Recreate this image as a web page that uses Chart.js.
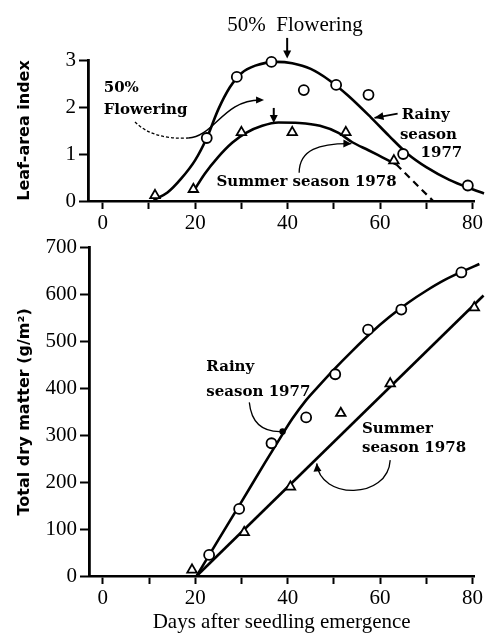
<!DOCTYPE html>
<html>
<head>
<meta charset="utf-8">
<script src="https://cdn.jsdelivr.net/npm/chart.js@4.4.1/dist/chart.umd.min.js"></script>
<style>
  html, body { margin: 0; padding: 0; background: #fff; }
  body { width: 485px; height: 635px; position: relative; overflow: hidden; }
  .box { position: absolute; left: 0; width: 485px; }
  #top { top: 0; height: 232px; }
  #bottom { top: 232px; height: 403px; }
</style>
</head>
<body>
<div class="box" id="top"><canvas id="laiChart"></canvas></div>
<div class="box" id="bottom"><canvas id="dmChart"></canvas></div>
<script>
// leaf-area index, observed points
const rainyLaiDays = [22.5, 29, 36.5, 43.5, 50.5, 57.5, 65, 79];
const rainyLai = [1.34, 2.64, 2.96, 2.36, 2.47, 2.26, 1.0, 0.33];
const summerLaiDays = [11.3, 19.6, 30, 41, 52.6, 63];
const summerLai = [0.12, 0.25, 1.46, 1.46, 1.46, 0.86];

// leaf-area index, fitted curves
const rainyLaiFitDays = [11, 14, 17, 20, 22.5, 25, 27.5, 30, 33, 37.5, 41, 45, 49, 53, 58, 62, 66, 70, 75, 80, 82.5];
const rainyLaiFit = [0.02, 0.18, 0.48, 0.87, 1.34, 1.95, 2.42, 2.72, 2.88, 2.96, 2.93, 2.81, 2.57, 2.25, 1.78, 1.38, 1.0, 0.72, 0.45, 0.25, 0.16];
const summerLaiFitDays = [19.6, 22, 25, 28, 31, 34.5, 38, 42.5, 47, 51, 54, 57.5, 60.5, 63.5];
const summerLaiFit = [0.2, 0.57, 0.94, 1.24, 1.45, 1.6, 1.67, 1.66, 1.6, 1.45, 1.25, 1.08, 0.93, 0.78];
const summerLaiTailDays = [63.5, 71.5];
const summerLaiTail = [0.78, 0];

// total dry matter, observed points
const rainyDmDays = [23, 29.5, 36.5, 44, 50.3, 57.4, 64.6, 77.6];
const rainyDm = [45, 143, 283, 338, 430, 525, 568, 647];
const summerDmDays = [19.3, 30.6, 40.6, 51.5, 62.2, 80.4];
const summerDm = [13, 93, 190, 347, 410, 572];

// total dry matter, fitted curves
const rainyDmFitDays = [20.3, 25, 30, 35, 38, 41, 44, 47, 50, 54, 58, 62, 66, 70, 74, 78, 81.5];
const rainyDmFit = [0, 77, 158, 240, 288, 335, 375, 408, 440, 480, 518, 552, 582, 608, 631, 650, 665];
const summerDmFitDays = [20.3, 82.4];
const summerDmFit = [0, 598];

const laiTicks = [0, 1, 2, 3];
const dmTicks = [0, 100, 200, 300, 400, 500, 600, 700];
const dayLabels = [0, 20, 40, 60, 80];

const TICK_FONT = { family: 'Liberation Serif', size: 21 };
const NOTE_FONT = 'bold 15px "DejaVu Serif"';

function pts(xs, ys) {
    return xs.map((x, i) => ({ x: x, y: ys[i] }));
}

function px(chart, x, y) {
    return [chart.scales.x.getPixelForValue(x), chart.scales.y.getPixelForValue(y)];
}

function arrowHead(ctx, from, to, len, half) {
    const a = Math.atan2(to[1] - from[1], to[0] - from[0]);
    const c = Math.cos(a), s = Math.sin(a);
    ctx.beginPath();
    ctx.moveTo(to[0], to[1]);
    ctx.lineTo(to[0] - len * c + half * s, to[1] - len * s - half * c);
    ctx.lineTo(to[0] - len * c - half * s, to[1] - len * s + half * c);
    ctx.closePath();
    ctx.fill();
}

function fitLine(xs, ys) {
    return {
        data: pts(xs, ys), borderColor: '#000', borderWidth: 2.6, pointRadius: 0,
        cubicInterpolationMode: 'monotone', fill: false, clip: false, order: 2
    };
}

function marks(xs, ys, style) {
    return {
        data: pts(xs, ys), showLine: false, pointStyle: style,
        pointRadius: style === 'triangle' ? 5.5 : 5, pointBorderWidth: 1.8,
        pointBackgroundColor: '#fff', pointBorderColor: '#000', clip: false, order: 0
    };
}

function dayAxis(min, max, height) {
    return {
        type: 'linear', min: min, max: max,
        ticks: {
            stepSize: 10, includeBounds: false, autoSkip: false, maxRotation: 0,
            color: '#000', font: TICK_FONT, padding: 2,
            callback: v => dayLabels.includes(v) ? String(v) : ''
        },
        grid: { display: true, drawOnChartArea: false, tickLength: 8, tickWidth: 2, tickColor: '#000' },
        border: { display: true, color: '#000', width: 2.6 },
        afterFit: s => { s.height = height; }
    };
}

function valueAxis(min, max, step, width, title, list) {
    return {
        type: 'linear', min: min, max: max,
        afterBuildTicks: s => { s.ticks = list.map(v => ({ value: v })); },
        ticks: { stepSize: step, color: '#000', font: TICK_FONT, padding: 3 },
        grid: { display: true, drawOnChartArea: false, tickLength: 9, tickWidth: 2, tickColor: '#000' },
        border: { display: true, color: '#000', width: 2.8 },
        title: {
            display: true, text: title, color: '#000',
            font: { family: 'DejaVu Sans', size: 16, weight: 'bold' },
            padding: { top: 15, bottom: 0 }
        },
        afterFit: s => { s.width = width; }
    };
}

const laiNotes = {
    id: 'laiNotes',
    afterDatasetsDraw(chart) {
        const ctx = chart.ctx;
        const p = (x, y) => px(chart, x, y);
        ctx.save();
        ctx.fillStyle = '#000';
        ctx.strokeStyle = '#000';

        ctx.font = '21px "Liberation Serif"';
        ctx.textAlign = 'center';
        ctx.textBaseline = 'middle';
        let t = p(41.6, 3.74);
        ctx.fillText('50%  Flowering', t[0], t[1]);

        // arrow down to the rainy peak
        ctx.lineWidth = 2;
        let a = p(39.9, 3.47), b = p(39.9, 3.03);
        ctx.beginPath(); ctx.moveTo(a[0], a[1]); ctx.lineTo(b[0], b[1] - 6); ctx.stroke();
        arrowHead(ctx, a, b, 8, 4);

        ctx.font = NOTE_FONT;
        ctx.textAlign = 'left';
        t = p(0.2, 2.4); ctx.fillText('50%', t[0], t[1]);
        t = p(0.2, 1.94); ctx.fillText('Flowering', t[0], t[1]);

        // curved pointer from "Flowering" to the summer arrow
        ctx.lineWidth = 1.3;
        ctx.setLineDash([3, 2]);
        let s0 = p(6.97, 1.68), q = p(10.9, 1.3), m = p(18.5, 1.34);
        ctx.beginPath(); ctx.moveTo(s0[0], s0[1]); ctx.quadraticCurveTo(q[0], q[1], m[0], m[1]); ctx.stroke();
        ctx.setLineDash([]);
        ctx.lineWidth = 1.5;
        let c1 = p(24.0, 1.36), c2 = p(26.1, 2.15), e = p(34.9, 2.15);
        ctx.beginPath(); ctx.moveTo(m[0], m[1]); ctx.bezierCurveTo(c1[0], c1[1], c2[0], c2[1], e[0] - 4, e[1]); ctx.stroke();
        arrowHead(ctx, c2, e, 8, 3.5);

        // arrow down to the summer peak
        ctx.lineWidth = 2;
        a = p(37, 1.98); b = p(37, 1.66);
        ctx.beginPath(); ctx.moveTo(a[0], a[1]); ctx.lineTo(b[0], b[1] - 6); ctx.stroke();
        arrowHead(ctx, a, b, 8, 4);

        // rainy label
        t = p(64.7, 1.83); ctx.fillText('Rainy', t[0], t[1]);
        t = p(64.3, 1.40); ctx.fillText('season', t[0], t[1]);
        ctx.textAlign = 'right';
        t = p(77.8, 1.02); ctx.fillText('1977', t[0], t[1]);
        ctx.lineWidth = 1.8;
        a = p(63.8, 1.86); b = p(58.8, 1.77);
        ctx.beginPath(); ctx.moveTo(a[0], a[1]); ctx.lineTo(b[0], b[1]); ctx.stroke();
        arrowHead(ctx, a, b, 9, 4);

        // summer label
        ctx.textAlign = 'left';
        t = p(24.6, 0.40); ctx.fillText('Summer season 1978', t[0], t[1]);
        ctx.lineWidth = 1.3;
        s0 = p(42.5, 0.6); c1 = p(42.5, 1.09); c2 = p(46.8, 1.23); e = p(53.8, 1.22);
        ctx.beginPath(); ctx.moveTo(s0[0], s0[1]); ctx.bezierCurveTo(c1[0], c1[1], c2[0], c2[1], e[0], e[1]); ctx.stroke();
        arrowHead(ctx, c2, e, 8, 4);

        ctx.restore();
    }
};

const dmNotes = {
    id: 'dmNotes',
    afterDatasetsDraw(chart) {
        const ctx = chart.ctx;
        const p = (x, y) => px(chart, x, y);
        ctx.save();
        ctx.fillStyle = '#000';
        ctx.strokeStyle = '#000';
        ctx.font = NOTE_FONT;
        ctx.textAlign = 'left';
        ctx.textBaseline = 'middle';

        let t = p(22.4, 445); ctx.fillText('Rainy', t[0], t[1]);
        t = p(22.4, 391); ctx.fillText('season 1977', t[0], t[1]);
        ctx.lineWidth = 1.3;
        let s0 = p(31.7, 370), c1 = p(32.2, 321), c2 = p(35, 306), e = p(38.9, 308);
        ctx.beginPath(); ctx.moveTo(s0[0], s0[1]); ctx.bezierCurveTo(c1[0], c1[1], c2[0], c2[1], e[0], e[1]); ctx.stroke();
        ctx.beginPath(); ctx.arc(e[0], e[1], 3.2, 0, Math.PI * 2); ctx.fill();

        t = p(56.1, 313); ctx.fillText('Summer', t[0], t[1]);
        t = p(56.1, 272); ctx.fillText('season 1978', t[0], t[1]);
        s0 = p(62.2, 247); c1 = p(61.7, 162); c2 = p(47, 162); e = p(46.3, 240);
        ctx.beginPath(); ctx.moveTo(s0[0], s0[1]); ctx.bezierCurveTo(c1[0], c1[1], c2[0], c2[1], e[0], e[1]); ctx.stroke();
        arrowHead(ctx, c2, e, 8, 4);

        ctx.restore();
    }
};

Chart.defaults.animation = false;
Chart.defaults.plugins.legend.display = false;
Chart.defaults.plugins.tooltip.enabled = false;

new Chart(document.getElementById('laiChart'), {
    type: 'line',
    data: {
        datasets: [
            marks(rainyLaiDays, rainyLai, 'circle'),
            marks(summerLaiDays, summerLai, 'triangle'),
            fitLine(rainyLaiFitDays, rainyLaiFit),
            fitLine(summerLaiFitDays, summerLaiFit),
            Object.assign(fitLine(summerLaiTailDays, summerLaiTail), { borderDash: [7, 5], borderWidth: 2.2 })
        ]
    },
    options: {
        responsive: true,
        maintainAspectRatio: false,
        layout: { padding: { top: 60, right: 9, left: 0, bottom: 0 } },
        scales: {
            x: dayAxis(-3.2, 80.4, 31),
            y: valueAxis(0, 3, 1, 88, 'Leaf-area index', laiTicks)
        }
    },
    plugins: [laiNotes]
});

new Chart(document.getElementById('dmChart'), {
    type: 'line',
    data: {
        datasets: [
            marks(rainyDmDays, rainyDm, 'circle'),
            marks(summerDmDays, summerDm, 'triangle'),
            fitLine(rainyDmFitDays, rainyDmFit),
            fitLine(summerDmFitDays, summerDmFit)
        ]
    },
    options: {
        responsive: true,
        maintainAspectRatio: false,
        layout: { padding: { top: 15, right: 9, left: 0, bottom: 0 } },
        scales: {
            x: Object.assign(dayAxis(-3.0, 80.4, 59), {
                title: {
                    display: true, text: 'Days after seedling emergence', color: '#000',
                    font: { family: 'Liberation Serif', size: 21 }, padding: { top: 0, bottom: 0 }
                }
            }),
            y: valueAxis(0, 700, 100, 89, 'Total dry matter (g/m\u00b2)', dmTicks)
        }
    },
    plugins: [dmNotes]
});
</script>
</body>
</html>
